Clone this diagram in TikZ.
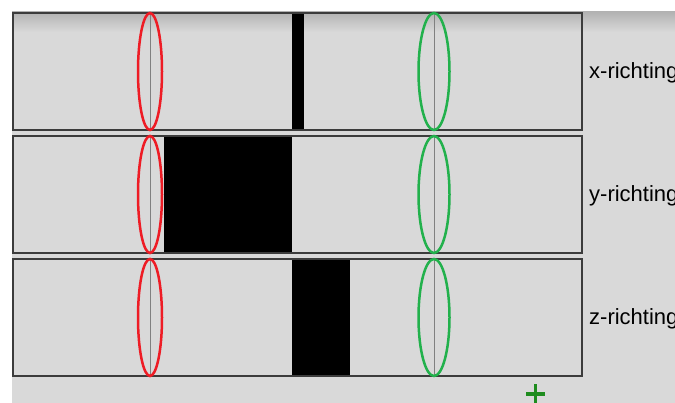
\documentclass[tikz,border=0pt]{standalone}
\usepackage{fontspec}
\setmainfont{Liberation Sans}
\definecolor{bggray}{HTML}{D9D9D9}
\definecolor{lensred}{HTML}{EE1C25}
\definecolor{lensgreen}{HTML}{22B14C}
\definecolor{plusgreen}{HTML}{1E8C1E}
\definecolor{framegray}{HTML}{3C3C3C}
\begin{document}
\begin{tikzpicture}[x=1pt,y=-1pt,
  frame/.style={draw=framegray,line width=1.4pt},
  axis/.style={draw=gray,line width=0.8pt},
  lens/.style={line width=2.5pt}]
\useasboundingbox (0,0) rectangle (675,403);
\fill[bggray] (12,12) rectangle (675,403);
\shade[top color=black!30,bottom color=bggray] (12,12) rectangle (675,32);

% three panels: black bar, optical axis, two lenses
\foreach \top/\bx/\bw/\lbl [count=\i] in {13/292/12/x, 136/164/128/y, 259/292/58/z}{
  \fill (\bx,\top) rectangle ++(\bw,117);
  \draw[axis] (150,\top) -- ++(0,117);
  \draw[axis] (434,\top) -- ++(0,117);
  \draw[frame] (13,\top) rectangle (582,\top+117);
  \draw[lens,draw=lensred] (150,\top+58.5) ellipse (12 and 58.5);
  \draw[lens,draw=lensgreen] (434,\top+58.5) ellipse (15.5 and 58.5);
  \node[anchor=base west,inner sep=0pt,font=\fontsize{22}{26}\selectfont]
    (label\i) at (589,\top+66) {\lbl-richting};
}

\draw[plusgreen,line width=3pt] (526,394) -- (545,394) (535.5,384.5) -- (535.5,403.5);
\end{tikzpicture}
\end{document}
